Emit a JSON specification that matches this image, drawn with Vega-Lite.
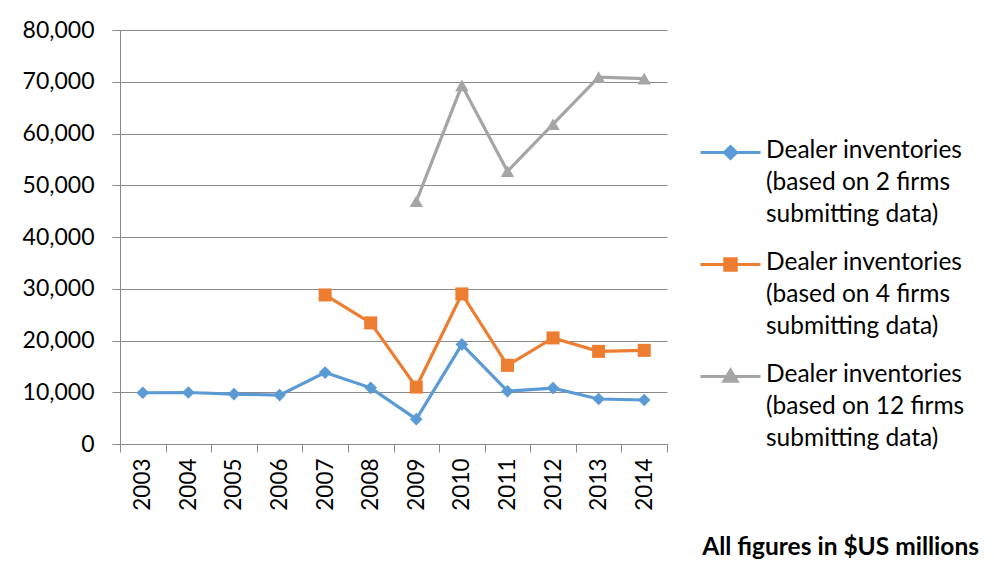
{
  "$schema": "https://vega.github.io/schema/vega-lite/v6.json",
  "width": 547,
  "height": 414,
  "autosize": {"type": "none"},
  "padding": {"left": 120, "top": 30, "right": 327, "bottom": 142},
  "background": "white",
  "data": {
    "values": [
      {"year": "2003", "series": "Dealer inventories\n(based on 2 firms\nsubmitting data)", "value": 9900},
      {"year": "2004", "series": "Dealer inventories\n(based on 2 firms\nsubmitting data)", "value": 9950},
      {"year": "2005", "series": "Dealer inventories\n(based on 2 firms\nsubmitting data)", "value": 9650},
      {"year": "2006", "series": "Dealer inventories\n(based on 2 firms\nsubmitting data)", "value": 9450},
      {"year": "2007", "series": "Dealer inventories\n(based on 2 firms\nsubmitting data)", "value": 13800},
      {"year": "2008", "series": "Dealer inventories\n(based on 2 firms\nsubmitting data)", "value": 10850},
      {"year": "2009", "series": "Dealer inventories\n(based on 2 firms\nsubmitting data)", "value": 4800},
      {"year": "2010", "series": "Dealer inventories\n(based on 2 firms\nsubmitting data)", "value": 19250},
      {"year": "2011", "series": "Dealer inventories\n(based on 2 firms\nsubmitting data)", "value": 10200},
      {"year": "2012", "series": "Dealer inventories\n(based on 2 firms\nsubmitting data)", "value": 10800},
      {"year": "2013", "series": "Dealer inventories\n(based on 2 firms\nsubmitting data)", "value": 8700},
      {"year": "2014", "series": "Dealer inventories\n(based on 2 firms\nsubmitting data)", "value": 8500},
      {"year": "2007", "series": "Dealer inventories\n(based on 4 firms\nsubmitting data)", "value": 28800},
      {"year": "2008", "series": "Dealer inventories\n(based on 4 firms\nsubmitting data)", "value": 23400},
      {"year": "2009", "series": "Dealer inventories\n(based on 4 firms\nsubmitting data)", "value": 11000},
      {"year": "2010", "series": "Dealer inventories\n(based on 4 firms\nsubmitting data)", "value": 29000},
      {"year": "2011", "series": "Dealer inventories\n(based on 4 firms\nsubmitting data)", "value": 15200},
      {"year": "2012", "series": "Dealer inventories\n(based on 4 firms\nsubmitting data)", "value": 20500},
      {"year": "2013", "series": "Dealer inventories\n(based on 4 firms\nsubmitting data)", "value": 17900},
      {"year": "2014", "series": "Dealer inventories\n(based on 4 firms\nsubmitting data)", "value": 18100},
      {"year": "2009", "series": "Dealer inventories\n(based on 12 firms\nsubmitting data)", "value": 46900},
      {"year": "2010", "series": "Dealer inventories\n(based on 12 firms\nsubmitting data)", "value": 69300},
      {"year": "2011", "series": "Dealer inventories\n(based on 12 firms\nsubmitting data)", "value": 52700},
      {"year": "2012", "series": "Dealer inventories\n(based on 12 firms\nsubmitting data)", "value": 61800},
      {"year": "2013", "series": "Dealer inventories\n(based on 12 firms\nsubmitting data)", "value": 70900},
      {"year": "2014", "series": "Dealer inventories\n(based on 12 firms\nsubmitting data)", "value": 70600}
    ]
  },
  "title": {
    "text": "All figures in $US millions",
    "orient": "bottom",
    "anchor": "end",
    "frame": "group",
    "font": "Lato",
    "fontSize": 24.5,
    "fontWeight": "bold",
    "color": "#000000",
    "offset": 26,
    "dx": 312
  },
  "encoding": {
    "x": {
      "field": "year",
      "type": "ordinal",
      "scale": {"type": "band", "paddingInner": 0, "paddingOuter": 0},
      "axis": {
        "title": null,
        "labelAngle": -90,
        "tickBand": "extent",
        "tickSize": 8,
        "labelPadding": 6,
        "labelFont": "Lato",
        "labelFontSize": 22.5,
        "labelColor": "#000000",
        "domainColor": "#898989",
        "tickColor": "#898989",
        "grid": false
      }
    },
    "y": {
      "field": "value",
      "type": "quantitative",
      "scale": {"domain": [0, 80000], "nice": false},
      "axis": {
        "title": null,
        "values": [0, 10000, 20000, 30000, 40000, 50000, 60000, 70000, 80000],
        "format": ",d",
        "tickSize": 8,
        "labelPadding": 18,
        "labelFont": "Lato",
        "labelFontSize": 23,
        "labelColor": "#000000",
        "domainColor": "#898989",
        "tickColor": "#898989",
        "gridColor": "#898989",
        "gridOpacity": 1
      }
    },
    "color": {
      "field": "series",
      "type": "nominal",
      "sort": null,
      "scale": {"range": ["#5B9BD5", "#ED7D31", "#A5A5A5"]},
      "legend": {
        "title": null,
        "orient": "none",
        "legendX": 579,
        "legendY": 91,
        "symbolSize": 3600,
        "symbolStrokeWidth": 3,
        "labelFont": "Lato",
        "labelFontSize": 24.5,
        "labelColor": "#000000",
        "labelOffset": 4,
        "labelLimit": 400,
        "rowPadding": 7,
        "labelExpr": "split(datum.label, '\\n')",
        "encode": {
          "symbols": {
            "update": {
              "shape": {"signal": "datum.index === 0 ? 'M-1,0H1M0,-0.2L0.2,0L0,0.2L-0.2,0Z' : datum.index === 1 ? 'M-1,0H1M-0.19,-0.19H0.19V0.19H-0.19Z' : 'M-1,0H1M0,-0.22L0.22,0.16H-0.22Z'"},
              "fill": {"signal": "scale('color', datum.value)"},
              "stroke": {"signal": "scale('color', datum.value)"},
              "strokeWidth": {"value": 3},
              "opacity": {"value": 1}
            }
          },
          "labels": {
            "update": {
              "lineHeight": {"value": 32},
              "baseline": {"value": "top"},
              "dy": {"value": -14}
            }
          }
        }
      }
    }
  },
  "layer": [
    {
      "mark": {"type": "line", "strokeWidth": 3.2},
      "encoding": {}
    },
    {
      "mark": {"type": "point", "filled": true, "opacity": 1},
      "encoding": {
        "shape": {
          "field": "series",
          "type": "nominal",
          "sort": null,
          "scale": {"range": ["diamond", "square", "triangle-up"]},
          "legend": null
        },
        "size": {
          "field": "series",
          "type": "nominal",
          "sort": null,
          "scale": {"range": [160, 180, 210]},
          "legend": null
        }
      }
    }
  ],
  "config": {
    "view": {"stroke": null},
    "axis": {"domainWidth": 1, "tickWidth": 1, "gridWidth": 1}
  }
}
